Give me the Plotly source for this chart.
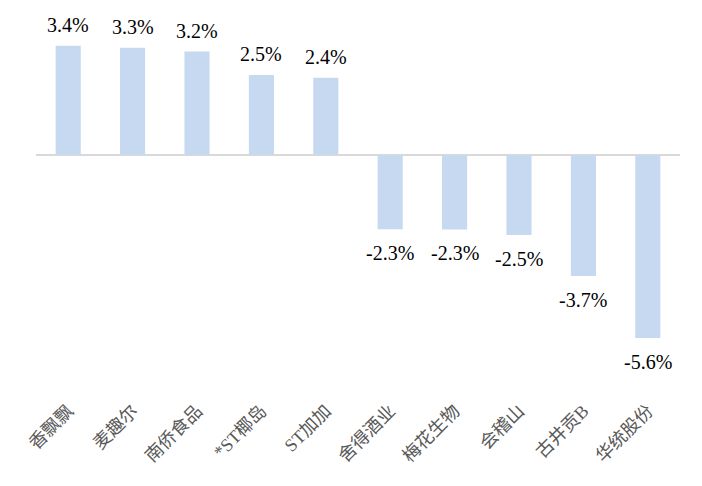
import plotly.graph_objects as go

categories = ["香飘飘", "麦趣尔", "南侨食品", "*ST椰岛", "ST加加", "舍得酒业", "梅花生物", "会稽山", "古井贡B", "华统股份"]
values = [3.36, 3.30, 3.18, 2.46, 2.38, -2.28, -2.29, -2.46, -3.72, -5.63]

fig = go.Figure(go.Bar(
    x=categories,
    y=values,
    marker=dict(color="#c6d9f1", line=dict(width=0)),
    width=0.39,
    hoverinfo="x+y",
))

label_font = dict(family="'Liberation Serif', 'Times New Roman', serif", size=20, color="#000000")
for c, v in zip(categories, values):
    pos = v >= 0
    fig.add_annotation(
        x=c, y=v, text=f"{v:.1f}%", showarrow=False,
        xanchor="center", yanchor="bottom" if pos else "top",
        yshift=8 if pos else -11,
        font=label_font,
    )

# the page body adds an 8px offset; margins compensate for it
fig.update_layout(
    width=702, height=486,
    margin=dict(l=28, r=30, t=2, b=114),
    paper_bgcolor="white", plot_bgcolor="white",
    showlegend=False,
    xaxis=dict(
        automargin=False,
        tickangle=-45,
        tickfont=dict(family="'Liberation Serif', 'Times New Roman', 'Noto Sans CJK SC', serif", size=18, color="#595959"),
        ticklabelstandoff=16,
        showline=False, showgrid=False, ticks="",
    ),
    yaxis=dict(
        automargin=False,
        range=[-6.92, 4.46],
        showticklabels=False, showgrid=False, showline=False,
        zeroline=True, zerolinecolor="#d9d9d9", zerolinewidth=2,
    ),
)

fig.write_html("out.html")
